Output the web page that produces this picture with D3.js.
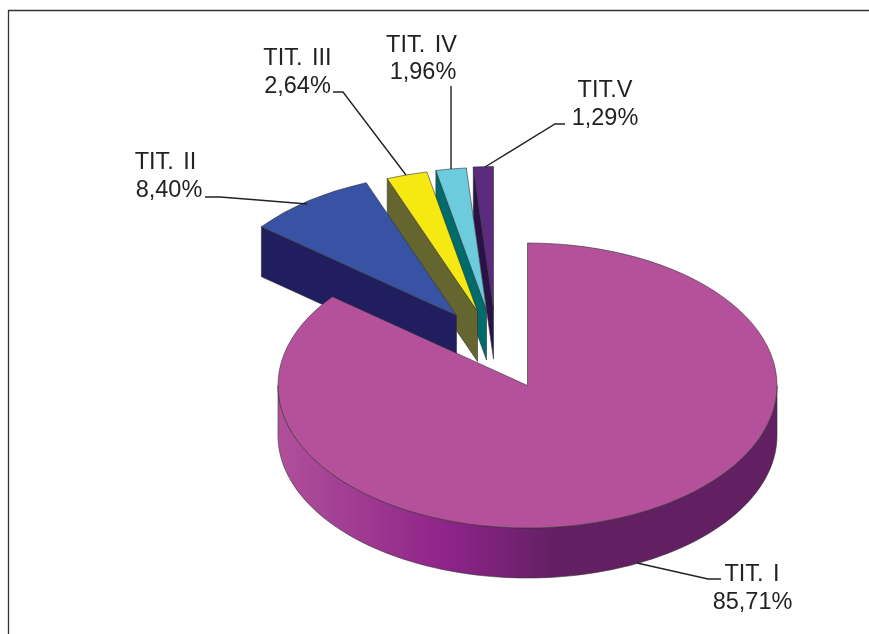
<!DOCTYPE html>
<html>
<head>
<meta charset="utf-8">
<script src="https://cdn.jsdelivr.net/npm/d3@7/dist/d3.min.js"></script>
<style>
  body { margin: 0; background: #fff; }
  svg { display: block; filter: blur(0.4px); }
  text { font-family: "Liberation Sans", Arial, sans-serif; font-size: 23.5px; word-spacing: 3px; fill: #222; }
</style>
</head>
<body>
<div id="chart"></div>
<script>
// Data
const categories = ["TIT. I", "TIT. II", "TIT. III", "TIT. IV", "TIT.V"];
const shares = [85.71, 8.40, 2.64, 1.96, 1.29];

const topColors = ["#b5519b", "#3953a4", "#f5e911", "#6ccbdc", "#5c2a7e"];
const wallColors = ["#8e2389", "#211e60", "#65652f", "#006b6b", "#2a1248"];

const width = 869, height = 634;
const cx = 527.5, cy = 385.5;
const rx = 249.5, ry = 142.5, depth = 50;

// Where each slice was pulled out to (the exploded offsets are not radial in the original)
const offsets = [[0, 0], [-71, -70], [-50, -74], [-41, -75.5], [-34, -76.5]];

// Label placement: x and baseline of the name, x and baseline of the share
const namePos = [[752, 581], [165.5, 169], [297.5, 65], [421.5, 52], [605, 97]];
const sharePos = [[752.5, 609], [169, 197], [297.5, 92.5], [423, 79], [605, 125]];
const leaders = [
  [[637, 563], [708, 579], [721, 579]],
  [[205, 197], [220, 197], [307, 204]],
  [[333, 92], [343, 92], [406, 175]],
  [[451, 86], [451, 169]],
  [[565, 124], [555, 124], [485, 167]]
];

const svg = d3.select("#chart").append("svg")
  .attr("width", width)
  .attr("height", height);

// Frame, open to the right and bottom
svg.append("path")
  .attr("d", d3.line()([[8.5, height], [8.5, 10.5], [width, 10.5]]))
  .attr("fill", "none")
  .attr("stroke", "#333")
  .attr("stroke-width", 1.3);

// Gradient along the front wall of the big slice
const grad = svg.append("defs").append("linearGradient")
  .attr("id", "wallGrad")
  .attr("gradientUnits", "userSpaceOnUse")
  .attr("x1", cx - rx).attr("x2", cx + rx)
  .attr("y1", 0).attr("y2", 0);
[[0, "#b0509a"], [0.34, "#8e2389"], [0.56, "#622062"], [1, "#622062"]].forEach(s => {
  grad.append("stop").attr("offset", s[0]).attr("stop-color", s[1]);
});

const pie = d3.pie().sort(null).startAngle(0).endAngle(2 * Math.PI);
const slices = pie(shares);

const arc = d3.arc().innerRadius(0).outerRadius(rx);
const line = d3.line();

// Point on the ellipse for a clockwise-from-top angle
function rim(a, ox, oy) {
  return [cx + ox + rx * Math.sin(a), cy + oy - ry * Math.cos(a)];
}

// Back slices first, the big slice last
d3.range(slices.length - 1, -1, -1).forEach(i => {
  const s = slices[i];
  const ox = offsets[i][0], oy = offsets[i][1];

  if (i === 0) {
    // Front wall: from the right-most to the left-most point of the ellipse
    const front = d3.range(Math.PI / 2, 3 * Math.PI / 2, Math.PI / 90).concat([3 * Math.PI / 2]);
    const upper = front.map(a => rim(a, ox, oy));
    const lower = front.slice().reverse().map(a => {
      const p = rim(a, ox, oy);
      return [p[0], p[1] + depth];
    });
    svg.append("path")
      .attr("d", line(upper.concat(lower)) + "Z")
      .attr("fill", "url(#wallGrad)")
      .attr("stroke", "#333")
      .attr("stroke-width", 0.6);
  } else {
    // Cut face on the left side of the pulled-out slice
    const tip = [cx + ox, cy + oy];
    const outer = rim(s.startAngle, ox, oy);
    const face = [tip, outer, [outer[0], outer[1] + depth], [tip[0], tip[1] + depth]];
    svg.append("path")
      .attr("d", line(face) + "Z")
      .attr("fill", wallColors[i])
      .attr("stroke", "#333")
      .attr("stroke-width", 0.6);
  }

  svg.append("path")
    .attr("d", arc(s))
    .attr("transform", `translate(${cx + ox},${cy + oy}) scale(1,${ry / rx})`)
    .attr("fill", topColors[i])
    .attr("stroke", "#333")
    .attr("stroke-width", 0.6)
    .attr("vector-effect", "non-scaling-stroke");
});

// Leader lines
leaders.forEach(pts => {
  svg.append("path")
    .attr("d", line(pts))
    .attr("fill", "none")
    .attr("stroke", "#222")
    .attr("stroke-width", 1.4);
});

// Labels: name on the first line, share with comma decimals on the second
const fmt = v => v.toFixed(2).replace(".", ",") + "%";
categories.forEach((c, i) => {
  svg.append("text")
    .attr("x", namePos[i][0])
    .attr("y", namePos[i][1])
    .attr("text-anchor", "middle")
    .text(c);
  svg.append("text")
    .attr("x", sharePos[i][0])
    .attr("y", sharePos[i][1])
    .attr("text-anchor", "middle")
    .text(fmt(shares[i]));
});
</script>
</body>
</html>
